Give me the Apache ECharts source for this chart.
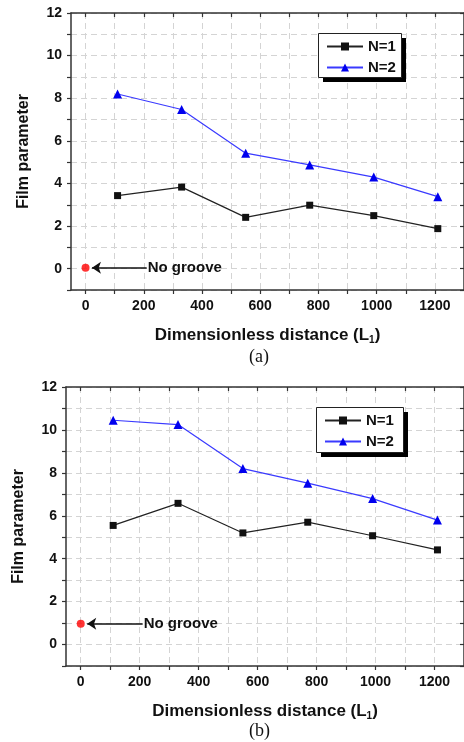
<!DOCTYPE html>
<html>
<head>
<meta charset="utf-8">
<script src="https://cdn.jsdelivr.net/npm/echarts@6/dist/echarts.min.js"></script>
<style>
  html, body { margin: 0; padding: 0; background: #fff; }
  #chart { width: 464px; height: 742px; }
</style>
</head>
<body>
<div id="chart"></div>
<script>
// distances along the groove (L1)
var distances = [110, 330, 550, 770, 990, 1210];

// panel (a)
var filmA_N1 = [3.43, 3.83, 2.41, 2.98, 2.49, 1.88];
var filmA_N2 = [8.2, 7.47, 5.42, 4.87, 4.3, 3.38];
var noGrooveA = 0.05;

// panel (b)
var filmB_N1 = [5.55, 6.58, 5.2, 5.7, 5.07, 4.41];
var filmB_N2 = [10.45, 10.25, 8.2, 7.52, 6.8, 5.8];
var noGrooveB = 0.97;

// axis ticks / labels
var xTickValues = [0, 100, 200, 300, 400, 500, 600, 700, 800, 900, 1000, 1100, 1200];
var xLabelValues = [0, 200, 400, 600, 800, 1000, 1200];
var arrowFromX = 210;
var arrowToX = 22;

var font = 'Liberation Sans';

function pairs(xs, ys) {
  return xs.map(function (x, i) { return [x, ys[i]]; });
}

var axisLineStyle = { color: '#333', width: 1.5 };
var tickStyle = { color: '#333', width: 1.2 };
var gridLineStyle = { color: '#d4d4d4', type: [6, 4], width: 1 };

function bottomX(gi) {
  return {
    type: 'value', gridIndex: gi, position: 'bottom',
    min: -50, max: 1300,
    axisLine: { show: true, onZero: false, lineStyle: axisLineStyle },
    axisTick: { show: true, inside: false, length: 4, customValues: xTickValues, lineStyle: tickStyle },
    axisLabel: {
      customValues: xLabelValues, fontFamily: font, fontWeight: 'bold', fontSize: 14, color: '#111', margin: 9,
      formatter: function (v) { return String(v); }
    },
    splitLine: { show: true, lineStyle: gridLineStyle },
    name: '{t|Dimensionless distance (L}{s|1}{t|)}',
    nameLocation: 'middle', nameGap: 35,
    nameTextStyle: {
      rich: {
        t: { fontFamily: font, fontWeight: 'bold', fontSize: 17, color: '#111' },
        s: { fontFamily: font, fontWeight: 'bold', fontSize: 10, color: '#111', padding: [10, 0, 0, 0] }
      }
    }
  };
}

function topX(gi) {
  return {
    type: 'value', gridIndex: gi, position: 'top',
    min: -50, max: 1300,
    axisLine: { show: true, onZero: false, lineStyle: axisLineStyle },
    axisTick: { show: true, inside: true, length: 4, customValues: xTickValues, lineStyle: tickStyle },
    axisLabel: { show: false },
    splitLine: { show: false }
  };
}

function leftY(gi) {
  return {
    type: 'value', gridIndex: gi, position: 'left',
    min: -1, max: 12, interval: 1,
    axisLine: { show: true, onZero: false, lineStyle: axisLineStyle },
    axisTick: { show: true, inside: false, length: 4, lineStyle: tickStyle },
    axisLabel: {
      fontFamily: font, fontWeight: 'bold', fontSize: 14, color: '#111', margin: 9,
      formatter: function (v) { return v % 2 === 0 ? String(v) : ''; }
    },
    splitLine: { show: true, lineStyle: gridLineStyle },
    name: 'Film parameter', nameLocation: 'middle', nameGap: 39,
    nameTextStyle: { fontFamily: font, fontWeight: 'bold', fontSize: 16, color: '#111' }
  };
}

function rightY(gi) {
  return {
    type: 'value', gridIndex: gi, position: 'right',
    min: -1, max: 12, interval: 1,
    axisLine: { show: true, onZero: false, lineStyle: axisLineStyle },
    axisTick: { show: true, inside: true, length: 4, lineStyle: tickStyle },
    axisLabel: { show: false },
    splitLine: { show: false }
  };
}

function legendBox(left, top) {
  return {
    left: left, top: top, orient: 'vertical',
    data: ['N=1', 'N=2'],
    itemWidth: 36, itemHeight: 10, itemGap: 6,
    padding: [6, 8, 6, 8],
    textStyle: { fontFamily: font, fontWeight: 'bold', fontSize: 15, color: '#111' },
    selectedMode: false
  };
}

// framed box with a hard black shadow behind each legend
function legendFrame(left, top, w, h) {
  return [
    { type: 'rect', left: left + 5, top: top + 5, z: 1, shape: { width: w, height: h }, style: { fill: '#000' } },
    { type: 'rect', left: left, top: top, z: 2, shape: { width: w, height: h }, style: { fill: '#fff', stroke: '#222', lineWidth: 1 } }
  ];
}

function n1Series(xi, yi, ys) {
  return {
    name: 'N=1', type: 'line', xAxisIndex: xi, yAxisIndex: yi,
    data: pairs(distances, ys),
    symbol: 'rect', symbolSize: 7,
    lineStyle: { color: '#222', width: 1.2 },
    itemStyle: { color: '#111' }
  };
}

function n2Series(xi, yi, ys) {
  return {
    name: 'N=2', type: 'line', xAxisIndex: xi, yAxisIndex: yi,
    data: pairs(distances, ys),
    symbol: 'triangle', symbolSize: 9,
    lineStyle: { color: '#3a3aff', width: 1.2 },
    itemStyle: { color: '#0000ee' }
  };
}

function noGroove(xi, yi, y) {
  return {
    name: 'No groove', type: 'scatter', xAxisIndex: xi, yAxisIndex: yi,
    data: [[0, y]],
    symbol: 'circle', symbolSize: 8,
    itemStyle: { color: '#ff0000' },
    markLine: {
      silent: true, animation: false,
      symbol: ['none', 'arrow'], symbolSize: 9,
      lineStyle: { color: '#111', width: 1.6, type: 'solid' },
      label: {
        show: true, position: 'start', distance: 1, formatter: 'No groove',
        fontFamily: font, fontWeight: 'bold', fontSize: 15, color: '#111'
      },
      data: [[{ coord: [arrowFromX, y] }, { coord: [arrowToX, y] }]]
    }
  };
}

var chart = echarts.init(document.getElementById('chart'), null, { renderer: 'canvas' });

chart.setOption({
  animation: false,
  backgroundColor: '#fff',
  grid: [
    { left: 71, top: 13, width: 393, height: 277 },
    { left: 66, top: 387, width: 398, height: 279 }
  ],
  xAxis: [bottomX(0), topX(0), bottomX(1), topX(1)],
  yAxis: [leftY(0), rightY(0), leftY(1), rightY(1)],
  legend: [legendBox(318, 33), legendBox(316, 407)],
  series: [
    n1Series(0, 0, filmA_N1),
    n2Series(0, 0, filmA_N2),
    noGroove(0, 0, noGrooveA),
    n1Series(2, 2, filmB_N1),
    n2Series(2, 2, filmB_N2),
    noGroove(2, 2, noGrooveB)
  ],
  graphic: legendFrame(318, 33, 83, 44).concat(legendFrame(316, 407, 87, 45)).concat([
    { type: 'text', left: 249, top: 348, style: { text: '(a)', fontFamily: 'Liberation Serif', fontSize: 18, fill: '#111' } },
    { type: 'text', left: 249, top: 722, style: { text: '(b)', fontFamily: 'Liberation Serif', fontSize: 18, fill: '#111' } }
  ])
});
</script>
</body>
</html>
